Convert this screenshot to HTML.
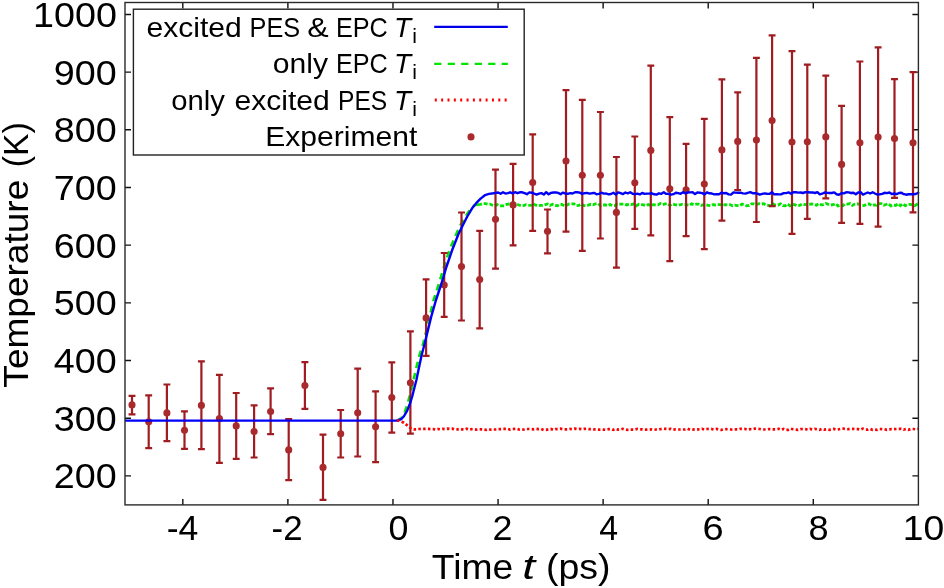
<!DOCTYPE html><html><head><meta charset="utf-8"><style>html,body{margin:0;padding:0;background:#fff;}svg{display:block;will-change:transform}</style></head><body><svg width="944" height="588" viewBox="0 0 944 588"><rect width="944" height="588" fill="#fff"/><path d="M125 475.86h6M918.4 475.86h-6M125 418.18h6M918.4 418.18h-6M125 360.51h6M918.4 360.51h-6M125 302.83h6M918.4 302.83h-6M125 245.16h6M918.4 245.16h-6M125 187.49h6M918.4 187.49h-6M125 129.81h6M918.4 129.81h-6M125 72.13h6M918.4 72.13h-6M125 14.46h6M918.4 14.46h-6M182.81 504.9v-6M182.81 2.5v6M287.89 504.9v-6M287.89 2.5v6M392.97 504.9v-6M392.97 2.5v6M498.05 504.9v-6M498.05 2.5v6M603.13 504.9v-6M603.13 2.5v6M708.21 504.9v-6M708.21 2.5v6M813.29 504.9v-6M813.29 2.5v6" stroke="#111" stroke-width="1.4" fill="none"/><path d="M397.0 420.6 L397.0 420.6 L401.0 418.5 L404.1 414.0 L406.2 408.0 L408.3 401.0 L410.0 395.0 L411.5 389.0 L413.5 380.0 L416.5 367.0 L419.5 355.0 L422.8 345.0 L426.5 330.0 L430.0 315.5 L433.6 300.0 L438.5 285.0 L443.8 267.5 L449.6 250.0 L455.0 237.0 L460.2 225.5 L465.5 216.5 L470.8 208.5 L474.5 205.3 L478.0 204.6" stroke="#00e400" stroke-width="2.6" fill="none" stroke-dasharray="6.5 5"/><path d="M478.0 204.6 L480.4 204.4 L482.8 203.6 L485.2 203.6 L487.6 204.2 L490.0 204.1 L492.4 205.2 L494.8 205.8 L497.2 204.6 L499.6 205.7 L502.0 205.9 L504.4 205.8 L506.8 204.4 L509.2 204.0 L511.6 204.0 L514.0 204.0 L516.4 204.0 L518.8 205.0 L521.2 205.7 L523.6 205.5 L526.0 204.7 L528.4 205.1 L530.8 205.4 L533.2 203.7 L535.6 205.1 L538.0 205.7 L540.4 205.4 L542.8 205.3 L545.2 204.6 L547.6 203.9 L550.0 205.4 L552.4 204.3 L554.8 205.4 L557.2 205.8 L559.6 204.5 L562.0 204.5 L564.4 205.8 L566.8 205.2 L569.2 203.9 L571.6 203.8 L574.0 203.9 L576.4 205.7 L578.8 205.4 L581.2 203.9 L583.6 205.5 L586.0 205.9 L588.4 205.1 L590.8 204.3 L593.2 204.8 L595.6 203.8 L598.0 203.5 L600.4 205.8 L602.8 205.1 L605.2 204.8 L607.6 205.7 L610.0 204.5 L612.4 205.6 L614.8 205.5 L617.2 204.0 L619.6 204.1 L622.0 204.2 L624.4 204.1 L626.8 204.9 L629.2 204.1 L631.6 204.5 L634.0 203.8 L636.4 205.7 L638.8 204.3 L641.2 204.6 L643.6 204.9 L646.0 205.7 L648.4 204.5 L650.8 205.7 L653.2 204.7 L655.6 204.8 L658.0 204.8 L660.4 203.5 L662.8 204.6 L665.2 203.9 L667.6 203.5 L670.0 205.4 L672.4 203.9 L674.8 204.6 L677.2 205.2 L679.6 204.8 L682.0 204.3 L684.4 204.7 L686.8 204.8 L689.2 205.4 L691.6 203.8 L694.0 204.8 L696.4 204.1 L698.8 204.2 L701.2 205.4 L703.6 204.7 L706.0 204.8 L708.4 205.3 L710.8 205.7 L713.2 204.6 L715.6 205.0 L718.0 204.7 L720.4 204.7 L722.8 205.2 L725.2 204.6 L727.6 204.8 L730.0 204.6 L732.4 205.8 L734.8 205.2 L737.2 205.6 L739.6 205.8 L742.0 204.1 L744.4 204.8 L746.8 205.8 L749.2 205.5 L751.6 203.8 L754.0 203.8 L756.4 204.6 L758.8 203.7 L761.2 204.1 L763.6 203.7 L766.0 205.1 L768.4 205.4 L770.8 205.7 L773.2 203.9 L775.6 205.2 L778.0 205.1 L780.4 203.8 L782.8 205.6 L785.2 205.8 L787.6 204.0 L790.0 205.8 L792.4 204.5 L794.8 204.7 L797.2 205.9 L799.6 205.5 L802.0 203.9 L804.4 204.5 L806.8 204.7 L809.2 204.3 L811.6 204.0 L814.0 204.3 L816.4 205.2 L818.8 203.5 L821.2 204.8 L823.6 204.6 L826.0 203.5 L828.4 204.3 L830.8 205.0 L833.2 204.7 L835.6 203.7 L838.0 205.9 L840.4 205.4 L842.8 205.8 L845.2 203.8 L847.6 204.1 L850.0 203.6 L852.4 205.4 L854.8 204.1 L857.2 203.8 L859.6 204.5 L862.0 205.7 L864.4 205.5 L866.8 204.1 L869.2 203.9 L871.6 205.7 L874.0 204.9 L876.4 205.2 L878.8 203.7 L881.2 203.6 L883.6 205.2 L886.0 204.5 L888.4 203.7 L890.8 205.8 L893.2 205.0 L895.6 205.4 L898.0 203.7 L900.4 205.6 L902.8 203.7 L905.2 205.6 L907.6 204.6 L910.0 204.3 L912.4 204.8 L914.8 205.7 L917.2 204.1 L918.2 203.8" stroke="#00e400" stroke-width="2.8" fill="none" stroke-dasharray="4 1.8"/><path d="M132.0 395.9V414.3M128.55 395.9h6.9M128.55 414.3h6.9M148.7 395.4V448.1M145.25 395.4h6.9M145.25 448.1h6.9M166.9 384.5V441.2M163.45000000000002 384.5h6.9M163.45000000000002 441.2h6.9M184.5 411.4V448.9M181.05 411.4h6.9M181.05 448.9h6.9M201.4 361.4V449.2M197.95000000000002 361.4h6.9M197.95000000000002 449.2h6.9M219.4 374.8V462.9M215.95000000000002 374.8h6.9M215.95000000000002 462.9h6.9M236.2 393.0V458.8M232.75 393.0h6.9M232.75 458.8h6.9M254.1 405.4V457.5M250.65 405.4h6.9M250.65 457.5h6.9M270.6 388.4V434.2M267.15000000000003 388.4h6.9M267.15000000000003 434.2h6.9M288.7 419.2V480.2M285.25 419.2h6.9M285.25 480.2h6.9M304.9 362.2V408.8M301.45 362.2h6.9M301.45 408.8h6.9M323.0 434.6V499.8M319.55 434.6h6.9M319.55 499.8h6.9M340.7 410.0V457.5M337.25 410.0h6.9M337.25 457.5h6.9M357.7 368.7V456.5M354.25 368.7h6.9M354.25 456.5h6.9M375.6 391.3V462.1M372.15000000000003 391.3h6.9M372.15000000000003 462.1h6.9M391.8 362.3V432.6M388.35 362.3h6.9M388.35 432.6h6.9M410.4 331.4V433.6M406.95 331.4h6.9M406.95 433.6h6.9M426.1 279.4V355.8M422.65000000000003 279.4h6.9M422.65000000000003 355.8h6.9M444.2 253.0V316.9M440.75 253.0h6.9M440.75 316.9h6.9M461.5 212.5V320.5M458.05 212.5h6.9M458.05 320.5h6.9M479.7 230.8V328.4M476.25 230.8h6.9M476.25 328.4h6.9M495.5 169.6V268.6M492.05 169.6h6.9M492.05 268.6h6.9M513.1 163.8V245.3M509.65000000000003 163.8h6.9M509.65000000000003 245.3h6.9M532.7 134.4V230.8M529.25 134.4h6.9M529.25 230.8h6.9M547.5 209.5V253.3M544.05 209.5h6.9M544.05 253.3h6.9M566.0 90.2V231.7M562.55 90.2h6.9M562.55 231.7h6.9M582.3 99.9V250.8M578.8499999999999 99.9h6.9M578.8499999999999 250.8h6.9M600.4 112.0V238.5M596.9499999999999 112.0h6.9M596.9499999999999 238.5h6.9M616.4 157.0V267.7M612.9499999999999 157.0h6.9M612.9499999999999 267.7h6.9M634.8 136.5V228.8M631.3499999999999 136.5h6.9M631.3499999999999 228.8h6.9M650.8 65.7V235.4M647.3499999999999 65.7h6.9M647.3499999999999 235.4h6.9M669.8 117.2V261.2M666.3499999999999 117.2h6.9M666.3499999999999 261.2h6.9M686.1 143.9V236.2M682.65 143.9h6.9M682.65 236.2h6.9M704.3 118.9V249.1M700.8499999999999 118.9h6.9M700.8499999999999 249.1h6.9M721.9 79.3V220.7M718.4499999999999 79.3h6.9M718.4499999999999 220.7h6.9M737.7 92.4V190.0M734.25 92.4h6.9M734.25 190.0h6.9M756.4 57.8V222.0M752.9499999999999 57.8h6.9M752.9499999999999 222.0h6.9M772.1 35.3V206.2M768.65 35.3h6.9M768.65 206.2h6.9M792.0 51.1V233.9M788.55 51.1h6.9M788.55 233.9h6.9M807.3 64.7V218.9M803.8499999999999 64.7h6.9M803.8499999999999 218.9h6.9M825.8 75.6V198.3M822.3499999999999 75.6h6.9M822.3499999999999 198.3h6.9M841.6 105.9V222.8M838.15 105.9h6.9M838.15 222.8h6.9M859.9 61.5V223.8M856.4499999999999 61.5h6.9M856.4499999999999 223.8h6.9M878.1 47.4V226.7M874.65 47.4h6.9M874.65 226.7h6.9M894.5 79.2V197.8M891.05 79.2h6.9M891.05 197.8h6.9M913.0 72.2V212.4M909.55 72.2h6.9M909.55 212.4h6.9" stroke="#a01c20" stroke-width="2.2" fill="none"/><g fill="#a82a2c"><circle cx="132.0" cy="404.9" r="3.55"/><circle cx="148.7" cy="421.8" r="3.55"/><circle cx="166.9" cy="412.9" r="3.55"/><circle cx="184.5" cy="430.3" r="3.55"/><circle cx="201.4" cy="405.4" r="3.55"/><circle cx="219.4" cy="418.5" r="3.55"/><circle cx="236.2" cy="425.9" r="3.55"/><circle cx="254.1" cy="431.6" r="3.55"/><circle cx="270.6" cy="411.5" r="3.55"/><circle cx="288.7" cy="449.9" r="3.55"/><circle cx="304.9" cy="385.5" r="3.55"/><circle cx="323.0" cy="467.4" r="3.55"/><circle cx="340.7" cy="433.8" r="3.55"/><circle cx="357.7" cy="412.8" r="3.55"/><circle cx="375.6" cy="426.8" r="3.55"/><circle cx="391.8" cy="397.5" r="3.55"/><circle cx="410.4" cy="382.7" r="3.55"/><circle cx="426.1" cy="317.9" r="3.55"/><circle cx="444.2" cy="285.0" r="3.55"/><circle cx="461.5" cy="266.6" r="3.55"/><circle cx="479.7" cy="279.5" r="3.55"/><circle cx="495.5" cy="219.2" r="3.55"/><circle cx="513.1" cy="204.9" r="3.55"/><circle cx="532.7" cy="182.5" r="3.55"/><circle cx="547.5" cy="231.2" r="3.55"/><circle cx="566.0" cy="161.0" r="3.55"/><circle cx="582.3" cy="175.3" r="3.55"/><circle cx="600.4" cy="175.3" r="3.55"/><circle cx="616.4" cy="212.4" r="3.55"/><circle cx="634.8" cy="182.7" r="3.55"/><circle cx="650.8" cy="150.4" r="3.55"/><circle cx="669.8" cy="188.8" r="3.55"/><circle cx="686.1" cy="189.9" r="3.55"/><circle cx="704.3" cy="184.1" r="3.55"/><circle cx="721.9" cy="149.9" r="3.55"/><circle cx="737.7" cy="141.4" r="3.55"/><circle cx="756.4" cy="140.1" r="3.55"/><circle cx="772.1" cy="120.6" r="3.55"/><circle cx="792.0" cy="142.0" r="3.55"/><circle cx="807.3" cy="141.8" r="3.55"/><circle cx="825.8" cy="136.9" r="3.55"/><circle cx="841.6" cy="164.4" r="3.55"/><circle cx="859.9" cy="142.7" r="3.55"/><circle cx="878.1" cy="137.0" r="3.55"/><circle cx="894.5" cy="138.6" r="3.55"/><circle cx="913.0" cy="142.7" r="3.55"/></g><path d="M125.0 420.6 L397.0 420.6 L401.4 419.0 L404.1 416.0 L407.2 410.6 L410.2 403.0 L412.5 395.3 L414.4 387.7 L416.4 380.0 L419.0 367.5 L421.6 355.3 L424.3 345.0 L427.8 330.6 L431.6 315.3 L436.0 300.0 L441.3 284.0 L446.4 267.0 L452.2 250.0 L458.5 234.0 L462.7 225.5 L467.0 217.0 L472.1 208.3 L476.4 202.9 L480.6 198.6 L484.9 195.2 L489.1 193.9 L493.4 193.3 L495.8 192.9 L498.2 192.5 L500.6 193.8 L503.0 192.3 L505.4 193.5 L507.8 193.1 L510.2 192.3 L512.6 193.4 L515.0 192.2 L517.4 193.2 L519.8 192.3 L522.2 192.3 L524.6 193.2 L527.0 194.2 L529.4 192.4 L531.8 192.7 L534.2 193.7 L536.6 194.6 L539.0 193.6 L541.4 193.1 L543.8 194.6 L546.2 192.2 L548.6 194.3 L551.0 192.9 L553.4 192.5 L555.8 192.4 L558.2 192.9 L560.6 194.2 L563.0 192.6 L565.4 193.6 L567.8 193.8 L570.2 193.1 L572.6 193.5 L575.0 192.3 L577.4 192.3 L579.8 192.6 L582.2 193.9 L584.6 193.2 L587.0 192.9 L589.4 193.6 L591.8 193.3 L594.2 192.9 L596.6 194.2 L599.0 193.9 L601.4 192.7 L603.8 193.6 L606.2 193.5 L608.6 194.4 L611.0 194.0 L613.4 192.8 L615.8 194.6 L618.2 192.4 L620.6 193.2 L623.0 194.1 L625.4 192.5 L627.8 193.4 L630.2 192.2 L632.6 193.8 L635.0 194.1 L637.4 193.6 L639.8 194.4 L642.2 192.9 L644.6 193.9 L647.0 193.6 L649.4 193.6 L651.8 193.3 L654.2 194.3 L656.6 194.6 L659.0 193.3 L661.4 193.8 L663.8 192.3 L666.2 193.9 L668.6 193.8 L671.0 194.7 L673.4 194.2 L675.8 192.8 L678.2 193.1 L680.6 193.8 L683.0 192.2 L685.4 193.3 L687.8 192.5 L690.2 192.4 L692.6 192.3 L695.0 194.1 L697.4 192.4 L699.8 192.7 L702.2 193.1 L704.6 194.4 L707.0 192.3 L709.4 193.3 L711.8 193.5 L714.2 194.4 L716.6 194.2 L719.0 194.3 L721.4 192.8 L723.8 193.2 L726.2 193.0 L728.6 194.4 L731.0 194.6 L733.4 192.5 L735.8 192.6 L738.2 192.7 L740.6 192.7 L743.0 193.4 L745.4 193.6 L747.8 192.8 L750.2 192.1 L752.6 193.2 L755.0 193.1 L757.4 193.6 L759.8 194.6 L762.2 193.9 L764.6 193.4 L767.0 193.7 L769.4 193.9 L771.8 192.2 L774.2 194.4 L776.6 194.1 L779.0 194.4 L781.4 194.2 L783.8 193.1 L786.2 193.1 L788.6 192.4 L791.0 193.7 L793.4 192.3 L795.8 192.3 L798.2 192.6 L800.6 192.5 L803.0 193.0 L805.4 192.2 L807.8 192.1 L810.2 192.5 L812.6 192.4 L815.0 193.0 L817.4 192.2 L819.8 194.4 L822.2 193.7 L824.6 192.5 L827.0 192.8 L829.4 193.0 L831.8 193.0 L834.2 192.4 L836.6 194.3 L839.0 194.7 L841.4 193.3 L843.8 193.4 L846.2 192.3 L848.6 192.4 L851.0 193.0 L853.4 192.8 L855.8 194.3 L858.2 192.5 L860.6 192.2 L863.0 194.6 L865.4 193.5 L867.8 192.5 L870.2 193.5 L872.6 192.2 L875.0 193.5 L877.4 194.6 L879.8 194.3 L882.2 193.9 L884.6 192.8 L887.0 193.1 L889.4 192.5 L891.8 194.1 L894.2 193.5 L896.6 194.1 L899.0 193.0 L901.4 192.7 L903.8 194.2 L906.2 194.7 L908.6 194.3 L911.0 194.2 L913.4 194.2 L915.8 194.0 L918.2 192.7 L918.2 193.4" stroke="#0000f5" stroke-width="2.4" fill="none" stroke-linejoin="round"/><path d="M397.0 420.6 L398.5 420.6 L403.9 422.7 L407.7 425.8 L411.6 428.9 L414.0 429.4 L416.4 429.3 L418.8 429.0 L421.2 428.8 L423.6 428.9 L426.0 428.8 L428.4 428.9 L430.8 429.1 L433.2 429.1 L435.6 429.6 L438.0 429.0 L440.4 429.3 L442.8 428.9 L445.2 429.1 L447.6 428.7 L450.0 429.0 L452.4 428.7 L454.8 429.6 L457.2 429.4 L459.6 428.9 L462.0 429.3 L464.4 429.8 L466.8 428.8 L469.2 429.7 L471.6 429.2 L474.0 429.3 L476.4 429.7 L478.8 429.2 L481.2 429.3 L483.6 429.5 L486.0 429.9 L488.4 429.1 L490.8 429.7 L493.2 429.5 L495.6 429.5 L498.0 429.2 L500.4 429.1 L502.8 428.8 L505.2 428.9 L507.6 428.8 L510.0 429.6 L512.4 429.0 L514.8 428.9 L517.2 428.8 L519.6 429.7 L522.0 429.7 L524.4 429.5 L526.8 429.0 L529.2 429.0 L531.6 429.1 L534.0 429.3 L536.4 428.9 L538.8 429.2 L541.2 429.0 L543.6 429.9 L546.0 429.9 L548.4 429.4 L550.8 429.0 L553.2 429.9 L555.6 429.1 L558.0 429.1 L560.4 428.7 L562.8 429.2 L565.2 429.3 L567.6 429.3 L570.0 428.9 L572.4 429.3 L574.8 428.7 L577.2 429.0 L579.6 428.8 L582.0 429.2 L584.4 428.8 L586.8 428.7 L589.2 429.1 L591.6 429.0 L594.0 429.4 L596.4 429.3 L598.8 429.6 L601.2 429.5 L603.6 429.6 L606.0 429.8 L608.4 429.2 L610.8 429.1 L613.2 429.9 L615.6 428.9 L618.0 429.6 L620.4 429.5 L622.8 428.8 L625.2 429.7 L627.6 429.8 L630.0 429.5 L632.4 429.6 L634.8 429.7 L637.2 428.9 L639.6 429.3 L642.0 429.3 L644.4 429.7 L646.8 429.7 L649.2 429.7 L651.6 429.4 L654.0 429.8 L656.4 429.5 L658.8 429.5 L661.2 429.0 L663.6 428.7 L666.0 428.9 L668.4 429.1 L670.8 428.8 L673.2 429.7 L675.6 429.4 L678.0 429.5 L680.4 429.5 L682.8 429.5 L685.2 429.3 L687.6 428.7 L690.0 429.7 L692.4 429.6 L694.8 429.3 L697.2 429.3 L699.6 429.5 L702.0 428.8 L704.4 429.6 L706.8 429.0 L709.2 428.8 L711.6 429.0 L714.0 429.6 L716.4 428.9 L718.8 429.6 L721.2 429.9 L723.6 429.3 L726.0 429.2 L728.4 429.3 L730.8 429.5 L733.2 429.6 L735.6 429.4 L738.0 429.5 L740.4 428.8 L742.8 428.9 L745.2 429.0 L747.6 429.6 L750.0 429.1 L752.4 429.4 L754.8 428.7 L757.2 428.8 L759.6 429.0 L762.0 429.5 L764.4 429.5 L766.8 429.5 L769.2 429.0 L771.6 429.3 L774.0 429.3 L776.4 429.3 L778.8 428.8 L781.2 429.8 L783.6 428.9 L786.0 429.9 L788.4 429.8 L790.8 428.7 L793.2 429.3 L795.6 429.7 L798.0 429.9 L800.4 429.2 L802.8 429.0 L805.2 429.0 L807.6 429.8 L810.0 429.0 L812.4 429.4 L814.8 428.9 L817.2 429.3 L819.6 429.8 L822.0 428.9 L824.4 429.7 L826.8 429.3 L829.2 429.8 L831.6 429.5 L834.0 429.0 L836.4 429.8 L838.8 429.3 L841.2 428.7 L843.6 428.7 L846.0 429.3 L848.4 429.2 L850.8 429.1 L853.2 428.9 L855.6 429.1 L858.0 429.1 L860.4 429.7 L862.8 428.7 L865.2 429.6 L867.6 429.7 L870.0 428.8 L872.4 429.8 L874.8 429.6 L877.2 429.8 L879.6 429.0 L882.0 429.1 L884.4 429.2 L886.8 429.9 L889.2 429.4 L891.6 429.1 L894.0 429.2 L896.4 429.0 L898.8 428.8 L901.2 428.8 L903.6 429.7 L906.0 429.0 L908.4 429.8 L910.8 429.0 L913.2 429.0 L915.6 429.3 L918.0 428.9 L918.2 429.1" stroke="#ff0000" stroke-width="2.7" fill="none" stroke-dasharray="2.5 2.3"/><rect x="125" y="2.5" width="793.4" height="502.4" fill="none" stroke="#2a2a2a" stroke-width="1.4"/><rect x="133.4" y="9.2" width="390.8" height="145.8" fill="none" stroke="#222" stroke-width="1.4"/><path d="M434.2 26.9H507.8" stroke="#0000e8" stroke-width="2.2"/><path d="M434.2 63.9H507.8" stroke="#00e400" stroke-width="2.4" stroke-dasharray="7.2 6.3"/><path d="M434.8 100.1H507.8" stroke="#ff0000" stroke-width="3" stroke-dasharray="2 4.35"/><circle cx="471" cy="136.9" r="3.55" fill="#a82a2c"/><text transform="matrix(0.3770 0 0 0.3437 53.85 488.27)" font-family="'Liberation Sans', sans-serif" font-size="100">200</text><text transform="matrix(0.3770 0 0 0.3437 53.85 430.59)" font-family="'Liberation Sans', sans-serif" font-size="100">300</text><text transform="matrix(0.3770 0 0 0.3437 53.85 372.92)" font-family="'Liberation Sans', sans-serif" font-size="100">400</text><text transform="matrix(0.3770 0 0 0.3437 53.85 315.24)" font-family="'Liberation Sans', sans-serif" font-size="100">500</text><text transform="matrix(0.3770 0 0 0.3437 53.85 257.57)" font-family="'Liberation Sans', sans-serif" font-size="100">600</text><text transform="matrix(0.3770 0 0 0.3437 53.85 199.89)" font-family="'Liberation Sans', sans-serif" font-size="100">700</text><text transform="matrix(0.3770 0 0 0.3437 53.85 142.22)" font-family="'Liberation Sans', sans-serif" font-size="100">800</text><text transform="matrix(0.3770 0 0 0.3437 53.85 84.54)" font-family="'Liberation Sans', sans-serif" font-size="100">900</text><text transform="matrix(0.3770 0 0 0.3437 33.11 26.87)" font-family="'Liberation Sans', sans-serif" font-size="100">1000</text><text transform="matrix(0.3561 0 0 0.3559 166.68 540.46)" font-family="'Liberation Sans', sans-serif" font-size="100">-4</text><text transform="matrix(0.3487 0 0 0.3457 271.61 540.10)" font-family="'Liberation Sans', sans-serif" font-size="100">-2</text><text transform="matrix(0.3583 0 0 0.3451 388.47 540.05)" font-family="'Liberation Sans', sans-serif" font-size="100">0</text><text transform="matrix(0.3587 0 0 0.3457 492.61 540.10)" font-family="'Liberation Sans', sans-serif" font-size="100">2</text><text transform="matrix(0.3392 0 0 0.3559 599.22 540.46)" font-family="'Liberation Sans', sans-serif" font-size="100">4</text><text transform="matrix(0.3804 0 0 0.3451 702.40 540.05)" font-family="'Liberation Sans', sans-serif" font-size="100">6</text><text transform="matrix(0.3617 0 0 0.3451 808.55 540.05)" font-family="'Liberation Sans', sans-serif" font-size="100">8</text><text transform="matrix(0.3727 0 0 0.3451 902.82 540.05)" font-family="'Liberation Sans', sans-serif" font-size="100">10</text><text transform="matrix(0.3726 0 0 0.3532 431.85 578.50)" font-family="'Liberation Sans', sans-serif" font-size="100">Time</text><text transform="matrix(0.4654 0 0 0.3532 522.27 578.50)" font-family="'Liberation Sans', sans-serif" font-size="100" font-style="italic">t</text><text transform="matrix(0.3750 0 0 0.3532 545.95 578.50)" font-family="'Liberation Sans', sans-serif" font-size="100">(ps)</text><text transform="matrix(0 -0.3705 0.3459 0 27.9 387.64)" font-family="'Liberation Sans', sans-serif" font-size="100">Temperature</text><text transform="matrix(0 -0.3372 0.3459 0 27.9 167.22)" font-family="'Liberation Sans', sans-serif" font-size="100">(K)</text><text transform="matrix(0.3007 0 0 0.2703 146.50 36.90)" font-family="'Liberation Sans', sans-serif" font-size="100">excited</text><text transform="matrix(0.2532 0 0 0.2703 249.57 36.90)" font-family="'Liberation Sans', sans-serif" font-size="100">PES</text><text transform="matrix(0.3213 0 0 0.2703 307.31 36.90)" font-family="'Liberation Sans', sans-serif" font-size="100">&amp;</text><text transform="matrix(0.2523 0 0 0.2703 335.88 36.90)" font-family="'Liberation Sans', sans-serif" font-size="100">EPC</text><text transform="matrix(0.2793 0 0 0.2703 393.89 36.90)" font-family="'Liberation Sans', sans-serif" font-size="100" font-style="italic">T</text><text transform="matrix(0.211 0 0 0.211 412.32 42.60)" font-family="'Liberation Sans', sans-serif" font-size="100">i</text><text transform="matrix(0.3011 0 0 0.2703 272.70 73.40)" font-family="'Liberation Sans', sans-serif" font-size="100">only</text><text transform="matrix(0.2523 0 0 0.2703 335.88 73.40)" font-family="'Liberation Sans', sans-serif" font-size="100">EPC</text><text transform="matrix(0.2793 0 0 0.2703 393.89 73.40)" font-family="'Liberation Sans', sans-serif" font-size="100" font-style="italic">T</text><text transform="matrix(0.211 0 0 0.211 412.32 79.10)" font-family="'Liberation Sans', sans-serif" font-size="100">i</text><text transform="matrix(0.2927 0 0 0.2703 171.13 109.90)" font-family="'Liberation Sans', sans-serif" font-size="100">only</text><text transform="matrix(0.3010 0 0 0.2703 234.50 109.90)" font-family="'Liberation Sans', sans-serif" font-size="100">excited</text><text transform="matrix(0.2463 0 0 0.2703 338.03 109.90)" font-family="'Liberation Sans', sans-serif" font-size="100">PES</text><text transform="matrix(0.2793 0 0 0.2703 393.89 109.90)" font-family="'Liberation Sans', sans-serif" font-size="100" font-style="italic">T</text><text transform="matrix(0.211 0 0 0.211 412.32 115.60)" font-family="'Liberation Sans', sans-serif" font-size="100">i</text><text transform="matrix(0.3008 0 0 0.2703 265.19 146.40)" font-family="'Liberation Sans', sans-serif" font-size="100">Experiment</text></svg></body></html>
